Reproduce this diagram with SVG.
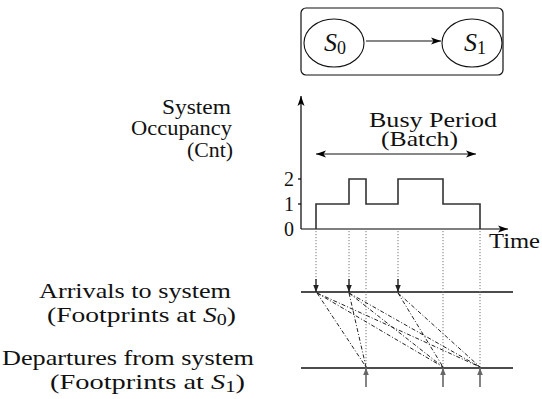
<svg xmlns="http://www.w3.org/2000/svg" width="542" height="399" viewBox="0 0 542 399" font-family="Liberation Serif">
  <style>
    text { fill: #111; }
    .lbl { font-size: 22px; }
    .tick { font-size: 20px; text-anchor: end; }
    .ax { stroke: #000; stroke-width: 1.2; fill: none; }
    .base { stroke: #111; stroke-width: 1.3; fill: none; }
    .step { stroke: #333; stroke-width: 1.6; fill: none; }
    .dot { stroke: #777; stroke-width: 1; stroke-dasharray: 1.2 1.8; fill: none; }
    .pair { stroke: #222; stroke-width: 1; stroke-dasharray: 4 2 1 2; fill: none; }
    .arr { stroke: #222; stroke-width: 1.4; fill: none; }
    .dep { stroke: #666; stroke-width: 1.6; fill: none; }
  </style>
  <defs>
    <marker id="head" viewBox="0 0 10 10" refX="10" refY="5" markerWidth="10" markerHeight="10" markerUnits="userSpaceOnUse" orient="auto-start-reverse">
      <path d="M0,1.5 L10,5 L0,8.5 L2.5,5 Z" fill="#000"/>
    </marker>
    <marker id="small" viewBox="0 0 10 10" refX="10" refY="5" markerWidth="7" markerHeight="7" markerUnits="userSpaceOnUse" orient="auto">
      <path d="M0,1 L10,5 L0,9 Z" fill="#222"/>
    </marker>
    <marker id="smallg" viewBox="0 0 10 10" refX="10" refY="5" markerWidth="7" markerHeight="7" markerUnits="userSpaceOnUse" orient="auto">
      <path d="M0,1 L10,5 L0,9 Z" fill="#666"/>
    </marker>
  </defs>

  <!-- two-state model -->
  <rect x="301" y="8" width="202" height="67" rx="5" fill="none" stroke="#111" stroke-width="1.2"/>
  <g id="s0" font-family="Liberation Serif">
    <ellipse cx="334" cy="43" rx="30" ry="24" fill="none" stroke="#111" stroke-width="1.1"/>
    <text x="335" y="51" text-anchor="middle" font-size="26"><tspan font-style="italic">S</tspan><tspan font-size="18" dy="3">0</tspan></text>
  </g>
  <g id="s1" font-family="Liberation Serif">
    <ellipse cx="472" cy="43" rx="30" ry="24" fill="none" stroke="#111" stroke-width="1.1"/>
    <text x="475" y="51" text-anchor="middle" font-size="26"><tspan font-style="italic">S</tspan><tspan font-size="18" dy="3">1</tspan></text>
  </g>
  <g id="connectors">
    <line x1="366" y1="41" x2="441" y2="41" stroke="#111" stroke-width="1.1" marker-end="url(#head)"/>
  </g>

  <!-- occupancy chart -->
  <g id="chart" font-family="Liberation Serif">
    <line class="ax" x1="301" y1="229" x2="301" y2="96" marker-end="url(#head)"/>
    <line class="ax" x1="301" y1="229" x2="508" y2="229" marker-end="url(#head)"/>
    <line class="ax" x1="298" y1="179" x2="301" y2="179"/>
    <line class="ax" x1="298" y1="204" x2="301" y2="204"/>
    <text class="tick" x="294" y="186">2</text>
    <text class="tick" x="294" y="211">1</text>
    <text class="tick" x="294" y="236">0</text>
    <path class="step" d="M316,229 V204 H349 V179 H366 V204 H398 V179 H443 V204 H480 V229"/>
    <line x1="316" y1="154" x2="476" y2="154" stroke="#111" stroke-width="1" marker-start="url(#head)" marker-end="url(#head)"/>
    <text class="lbl" x="369" y="127" textLength="128" lengthAdjust="spacingAndGlyphs">Busy Period</text>
    <text class="lbl" x="381" y="146" textLength="77" lengthAdjust="spacingAndGlyphs">(Batch)</text>
    <text class="lbl" x="489" y="248" textLength="51" lengthAdjust="spacingAndGlyphs">Time</text>
  </g>

  <!-- side labels -->
  <g id="occupancy-label" class="lbl" font-family="Liberation Serif">
    <text x="162" y="114" textLength="69" lengthAdjust="spacingAndGlyphs">System</text>
    <text x="131" y="135" textLength="101" lengthAdjust="spacingAndGlyphs">Occupancy</text>
    <text x="187" y="157" textLength="46" lengthAdjust="spacingAndGlyphs">(Cnt)</text>
  </g>
  <g id="arrivals-label" class="lbl" font-family="Liberation Serif">
    <text x="39" y="298" textLength="192" lengthAdjust="spacingAndGlyphs">Arrivals to system</text>
    <text x="47" y="322" textLength="189" lengthAdjust="spacingAndGlyphs">(Footprints at <tspan font-style="italic">S</tspan><tspan font-size="16" dy="3">0</tspan><tspan dy="-3">)</tspan></text>
  </g>
  <g id="departures-label" class="lbl" font-family="Liberation Serif">
    <text x="2" y="365" textLength="252" lengthAdjust="spacingAndGlyphs">Departures from system</text>
    <text x="50" y="389" textLength="195" lengthAdjust="spacingAndGlyphs">(Footprints at <tspan font-style="italic">S</tspan><tspan font-size="16" dy="3">1</tspan><tspan dy="-3">)</tspan></text>
  </g>

  <!-- footprint timelines -->
  <g id="timelines">
    <line class="base" x1="301" y1="292" x2="513" y2="292"/>
    <line class="base" x1="301" y1="368" x2="513" y2="368"/>
  </g>

  <g id="projections">
    <line class="dot" x1="316" y1="231" x2="316" y2="280"/>
    <line class="dot" x1="349" y1="231" x2="349" y2="280"/>
    <line class="dot" x1="398" y1="231" x2="398" y2="280"/>
    <line class="dot" x1="366" y1="231" x2="366" y2="368"/>
    <line class="dot" x1="443" y1="231" x2="443" y2="368"/>
    <line class="dot" x1="480" y1="231" x2="480" y2="368"/>
    <line class="arr" x1="316" y1="279" x2="316" y2="292" marker-end="url(#small)"/>
    <line class="arr" x1="349" y1="279" x2="349" y2="292" marker-end="url(#small)"/>
    <line class="arr" x1="398" y1="279" x2="398" y2="292" marker-end="url(#small)"/>
    <line class="dep" x1="366" y1="387" x2="366" y2="368" marker-end="url(#smallg)"/>
    <line class="dep" x1="443" y1="387" x2="443" y2="368" marker-end="url(#smallg)"/>
    <line class="dep" x1="480" y1="387" x2="480" y2="368" marker-end="url(#smallg)"/>
  </g>

  <g id="pairings">
    <line class="pair" x1="317" y1="293" x2="366" y2="367"/>
    <line class="pair" x1="317" y1="293" x2="443" y2="367"/>
    <line class="pair" x1="317" y1="293" x2="480" y2="367"/>
    <line class="pair" x1="349" y1="293" x2="366" y2="367"/>
    <line class="pair" x1="349" y1="293" x2="443" y2="367"/>
    <line class="pair" x1="349" y1="293" x2="480" y2="367"/>
    <line class="pair" x1="398" y1="293" x2="443" y2="367"/>
    <line class="pair" x1="398" y1="293" x2="480" y2="367"/>
  </g>
</svg>
